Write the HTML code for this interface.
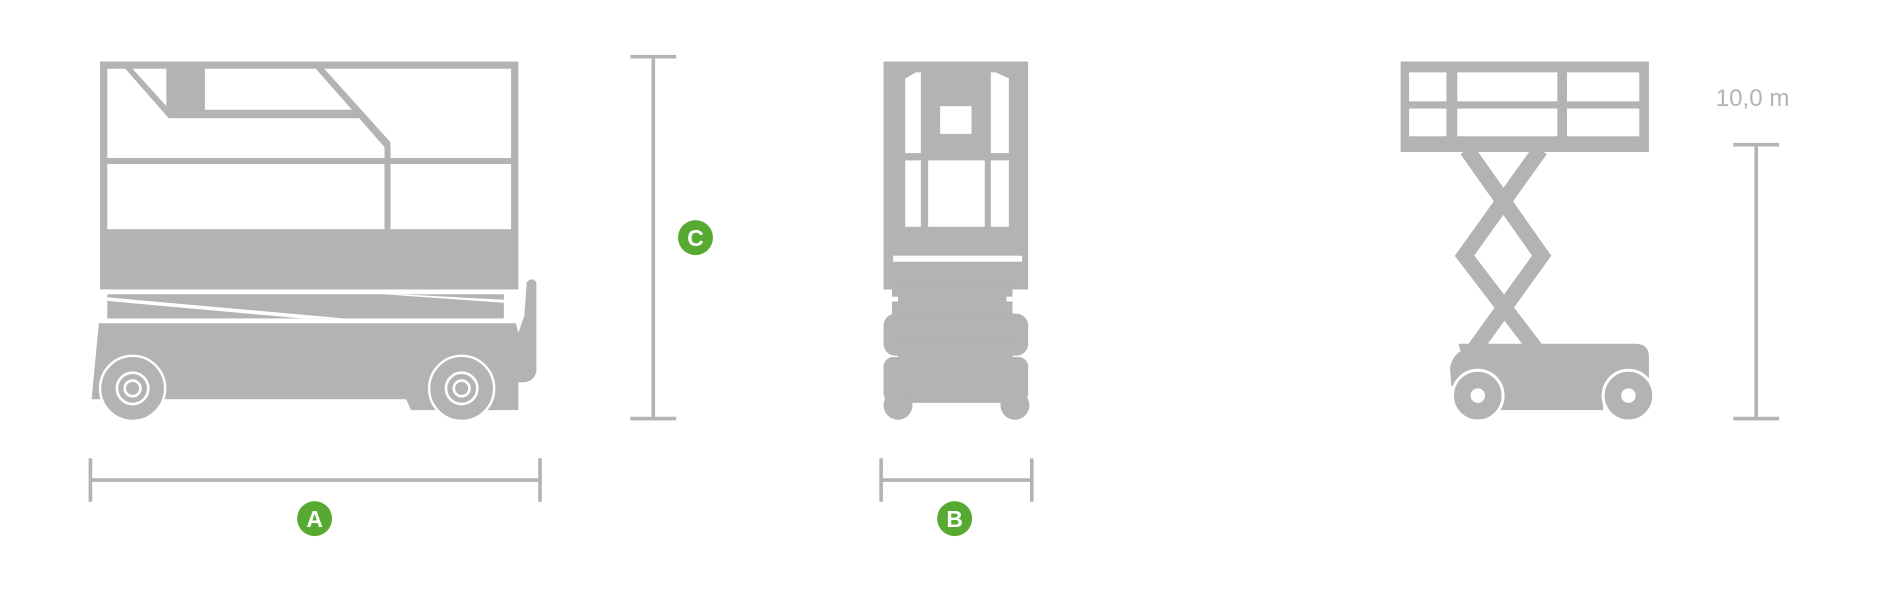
<!DOCTYPE html>
<html><head><meta charset="utf-8"><style>
html,body{margin:0;padding:0;background:#fff;width:1890px;height:591px;overflow:hidden}
svg{display:block}
</style></head><body>
<svg width="1890" height="591" viewBox="0 0 1568 490" preserveAspectRatio="none" xmlns="http://www.w3.org/2000/svg">
<g fill="#b3b3b3">
<!-- SIDE VIEW -->
<rect x="83" y="51" width="347" height="189"/>
<g fill="#fff">
<polygon points="89,57 104,57 140,98 298,98 319,122 319,131 89,131"/>
<polygon points="110,57 138,57 138,88"/>
<polygon points="170,57 262,57 292,91 170,91"/>
<polygon points="269,57 424,57 424,131 324,131 324,118"/>
<rect x="89" y="136" width="230" height="54"/>
<rect x="324" y="136" width="100" height="54"/>
</g>
<rect x="89" y="244" width="329" height="20"/>
<polygon fill="#fff" points="89,246.5 89,249.5 250,264 285,264"/>
<polygon fill="#fff" points="318,244 332,244 418,248.5 418,251"/>
<path d="M82,268 L428,268 L430,276 L435,262 L437,234 Q441,229 445,234 L445,308 Q443,317 433,317 L430,317 L430,340 L341,340 L337,331 L76,331 Z"/>
<circle cx="110" cy="322" r="27" stroke="#fff" stroke-width="2"/>
<circle cx="110" cy="322" r="13" fill="none" stroke="#fff" stroke-width="2.2"/>
<circle cx="110" cy="322" r="6.5" fill="none" stroke="#fff" stroke-width="2.2"/>
<circle cx="383" cy="322" r="27" stroke="#fff" stroke-width="2"/>
<circle cx="383" cy="322" r="13" fill="none" stroke="#fff" stroke-width="2.2"/>
<circle cx="383" cy="322" r="6.5" fill="none" stroke="#fff" stroke-width="2.2"/>
<!-- FRONT VIEW -->
<rect x="733" y="51" width="120" height="189"/>
<g fill="#fff">
<path d="M751,65 L760,60 L764,60 L764,127 L751,127 Z"/>
<path d="M822,60 L826,60 L837,65 L837,127 L822,127 Z"/>
<rect x="780" y="88" width="26" height="23"/>
<rect x="751" y="133" width="13" height="55"/>
<rect x="770" y="133" width="47" height="55"/>
<rect x="822" y="133" width="15" height="55"/>
<rect x="741" y="212" width="107" height="5"/>
</g>
<rect x="740" y="238" width="100" height="30"/>
<rect x="745" y="236" width="95" height="28"/>
<rect x="733" y="260" width="120" height="35" rx="10"/>
<rect x="733" y="296" width="120" height="38" rx="8"/>
<rect x="745" y="280" width="95" height="30"/>
<circle cx="745" cy="336" r="12"/>
<circle cx="842" cy="336" r="12"/>
<rect x="835" y="246" width="5" height="4" fill="#fff"/>
<rect x="740" y="246" width="5" height="4" fill="#fff"/>
<!-- RIGHT VIEW -->
<rect x="1162" y="51" width="206" height="75"/>
<g fill="#fff">
<rect x="1169" y="60" width="31" height="24"/>
<rect x="1209" y="60" width="83" height="24"/>
<rect x="1300" y="60" width="60" height="24"/>
<rect x="1169" y="90" width="31" height="23"/>
<rect x="1209" y="90" width="83" height="23"/>
<rect x="1300" y="90" width="60" height="23"/>
</g>
<g fill="none" stroke="#b3b3b3" stroke-width="13" stroke-linejoin="miter">
<polyline points="1217,124 1279,212 1217,298"/>
<polyline points="1278,124 1215,212 1277,293"/>
</g>
<path d="M1212,292 L1210,285 L1357,285 Q1368,285 1368,296 L1368,330 L1210,330 Z"/>
<path d="M1203,305 Q1205,294 1214,290 L1230,290 L1230,320 L1204,320 Z"/>
<rect x="1240" y="300" width="90" height="40"/>
<circle cx="1226" cy="328" r="21" stroke="#fff" stroke-width="2.5"/>
<circle cx="1226" cy="328" r="6" fill="#fff"/>
<circle cx="1351" cy="328" r="21" stroke="#fff" stroke-width="2.5"/>
<circle cx="1351" cy="328" r="6" fill="#fff"/>
</g>
<!-- dimension lines -->
<g stroke="#b3b3b3" stroke-width="3" fill="none">
<line x1="542" y1="47" x2="542" y2="347"/><line x1="523" y1="47" x2="561" y2="47"/><line x1="523" y1="347" x2="561" y2="347"/>
<line x1="75" y1="398" x2="448" y2="398"/><line x1="75" y1="380" x2="75" y2="416"/><line x1="448" y1="380" x2="448" y2="416"/>
<line x1="731" y1="398" x2="856" y2="398"/><line x1="731" y1="380" x2="731" y2="416"/><line x1="856" y1="380" x2="856" y2="416"/>
<line x1="1457" y1="120" x2="1457" y2="347"/><line x1="1438" y1="120" x2="1476" y2="120"/><line x1="1438" y1="347" x2="1476" y2="347"/>
</g>
<g fill="#56aa31">
<circle cx="577" cy="197" r="14.5"/>
<circle cx="261" cy="430" r="14.5"/>
<circle cx="792" cy="430" r="14.5"/>
</g>
<g fill="#fff" font-family="Liberation Sans, sans-serif" font-weight="bold" font-size="19" text-anchor="middle">
<text x="577" y="204">C</text>
<text x="261" y="437">A</text>
<text x="792" y="437">B</text>
</g>
<text x="1454" y="88" fill="#b3b3b3" font-family="Liberation Sans, sans-serif" font-size="20" text-anchor="middle">10,0 m</text>
</svg>
</body></html>
